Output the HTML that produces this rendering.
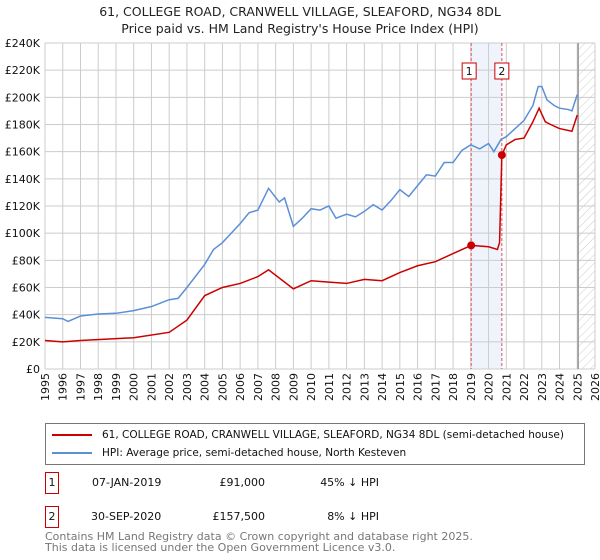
<!DOCTYPE html>
<html><head><meta charset="utf-8"><style>
body{margin:0;background:#fff;font-family:"DejaVu Sans","Liberation Sans",sans-serif;}
#wrap{position:relative;width:600px;height:560px;overflow:hidden;}
text{font-family:"DejaVu Sans","Liberation Sans",sans-serif;}
</style></head><body>
<div id="wrap">
<svg id="chart" width="600" height="560">
<defs><pattern id="hatch" width="6" height="6" patternUnits="userSpaceOnUse" patternTransform="rotate(45)"><line x1="0" y1="0" x2="0" y2="6" stroke="#ccc" stroke-width="1"/></pattern></defs>
<text x="300" y="16" text-anchor="middle" font-size="12.5" fill="#222">61, COLLEGE ROAD, CRANWELL VILLAGE, SLEAFORD, NG34 8DL</text>
<text x="300" y="33" text-anchor="middle" font-size="12.5" fill="#222">Price paid vs. HM Land Registry's House Price Index (HPI)</text>
<g id="grid"></g><g id="marks"></g>
</svg>
<div style="position:absolute;left:45px;top:423px;width:538px;height:40px;border:1px solid #777;font-size:10.5px;color:#111;white-space:nowrap">
 <div style="position:absolute;left:6px;top:5px;"><span style="display:inline-block;width:40px;height:2px;background:#cc0000;vertical-align:middle;margin-right:10px"></span>61, COLLEGE ROAD, CRANWELL VILLAGE, SLEAFORD, NG34 8DL (semi-detached house)</div>
 <div style="position:absolute;left:6px;top:23px;"><span style="display:inline-block;width:40px;height:2px;background:#5b8fd6;vertical-align:middle;margin-right:10px"></span>HPI: Average price, semi-detached house, North Kesteven</div>
</div>
<div style="position:absolute;left:45px;top:472px;font-size:11px;color:#111">
 <div style="position:absolute;top:0;left:0;width:12px;height:20px;border:1px solid #cc0000;text-align:center;line-height:20px">1</div>
 <div style="position:absolute;top:4px;left:47px;white-space:nowrap">07-JAN-2019</div>
 <div style="position:absolute;top:4px;left:150px;width:70px;text-align:right">£91,000</div>
 <div style="position:absolute;top:4px;left:262px;width:72px;text-align:right;white-space:nowrap">45% ↓ HPI</div>
 <div style="position:absolute;top:34px;left:0;width:12px;height:20px;border:1px solid #cc0000;text-align:center;line-height:20px">2</div>
 <div style="position:absolute;top:38px;left:46px;white-space:nowrap">30-SEP-2020</div>
 <div style="position:absolute;top:38px;left:150px;width:70px;text-align:right">£157,500</div>
 <div style="position:absolute;top:38px;left:262px;width:72px;text-align:right;white-space:nowrap">8% ↓ HPI</div>
</div>
<div style="position:absolute;left:45px;top:531px;font-size:11px;line-height:11px;color:#777">Contains HM Land Registry data © Crown copyright and database right 2025.<br>This data is licensed under the Open Government Licence v3.0.</div>
</div>
<script>
const hpiYears=[1995,1996,1996.3,1997,1998,1999,2000,2001,2002,2002.5,2003,2004,2004.5,2005,2005.5,2006,2006.5,2007,2007.6,2008.2,2008.5,2009,2009.5,2010,2010.5,2011,2011.4,2012,2012.5,2013,2013.5,2014,2014.5,2015,2015.5,2016,2016.5,2017,2017.5,2018,2018.5,2019,2019.5,2020,2020.3,2020.7,2021,2021.5,2022,2022.5,2022.8,2023,2023.3,2023.7,2024,2024.5,2024.7,2025];
const hpiValues=[38,37,35,39,40.5,41,43,46,51,52,60,77,88,93,100,107,115,117,133,123,126,105,111,118,117,120,111,114,112,116,121,117,124,132,127,135,143,142,152,152,161,165,162,166,160,169,171,177,183,194,208,208,198,194,192,191,190,202];
const ppYears=[1995,1996,1997,2000,2002,2003,2004,2005,2006,2007,2007.6,2009,2010,2011,2012,2013,2014,2015,2016,2017,2018,2019.02,2020,2020.5,2020.62,2020.75,2021,2021.5,2022,2022.5,2022.85,2023.2,2023.5,2024,2024.7,2025];
const ppValues=[21,20,21,23,27,36,54,60,63,68,73,59,65,64,63,66,65,71,76,79,85,91,90,88,93,157.5,165,169,170,182,192,182,180,177,175,187];
const saleYears=[2019.02,2020.75];
const saleValues=[91,157.5];
const yTicks=[0,20,40,60,80,100,120,140,160,180,200,220,240];
const xTicks=[1995,1996,1997,1998,1999,2000,2001,2002,2003,2004,2005,2006,2007,2008,2009,2010,2011,2012,2013,2014,2015,2016,2017,2018,2019,2020,2021,2022,2023,2024,2025,2026];
const X0=45,X1=595,Y0=369,Y1=43;
const xs=y=>X0+(y-1995)/(2026-1995)*(X1-X0);
const ys=v=>Y0-v/240*(Y0-Y1);
const NS='http://www.w3.org/2000/svg';
function mk(tag,attrs,parent){const e=document.createElementNS(NS,tag);for(const k in attrs)e.setAttribute(k,attrs[k]);parent.appendChild(e);return e;}
const g=document.getElementById('grid'),m=document.getElementById('marks');
let band=mk('rect',{x:xs(saleYears[0]),y:Y1,width:xs(saleYears[1])-xs(saleYears[0]),height:Y0-Y1,fill:'#eef3fc'},g);


let hat=mk('rect',{x:xs(2025.05),y:Y1,width:X1-xs(2025.05),height:Y0-Y1,fill:'url(#hatch)'},g);


xTicks.forEach(t=>{
 let l=mk('line',{x1:xs(t),x2:xs(t),y1:Y1,y2:Y0,stroke:'#ccc','stroke-width':1},g);
 
 
 let tx=mk('text',{x:0,y:0,'font-size':11,fill:'#111','text-anchor':'end',transform:`translate(${xs(t)+4},373) rotate(-90)`},g);
 tx.textContent=t;
 
 
});
yTicks.forEach(t=>{
 let l=mk('line',{x1:X0,x2:X1,y1:ys(t),y2:ys(t),stroke:'#ccc','stroke-width':1},g);
 
 
 let tx=mk('text',{x:40,y:ys(t)+4,'font-size':11,fill:'#111','text-anchor':'end'},g);
 tx.textContent=t===0?'£0':'£'+t+'K';
 
 
});
let nowL=mk('line',{x1:xs(2025.05),x2:xs(2025.05),y1:Y1,y2:Y0,stroke:'#999','stroke-width':1.5},g);


saleYears.forEach((s,i)=>{
 let l=mk('line',{x1:xs(s),x2:xs(s),y1:Y1,y2:Y0,stroke:'#e05050','stroke-width':1,'stroke-dasharray':'3,2'},g);
 
 
 let r=mk('rect',{x:xs(s)+(i==0?-9:-7),y:63,width:14,height:16,fill:'#fff',stroke:'#cc0000'},g);
 
 
 let t=mk('text',{x:xs(s)+(i==0?-2:0),y:75,'font-size':11,'text-anchor':'middle',fill:'#111'},g);
 t.textContent=i+1;
 
 
});
let hp=mk('polyline',{points:hpiYears.map((y,i)=>xs(y)+','+ys(hpiValues[i])).join(' '),fill:'none',stroke:'#5b8fd6','stroke-width':1.5},m);


let pp=mk('polyline',{points:ppYears.map((y,i)=>xs(y)+','+ys(ppValues[i])).join(' '),fill:'none',stroke:'#cc0000','stroke-width':1.5},m);


saleYears.forEach((s,i)=>{
 let c=mk('circle',{cx:xs(s),cy:ys(saleValues[i]),r:4,fill:'#cc0000'},m);
 
 
});
</script>
</body></html>
